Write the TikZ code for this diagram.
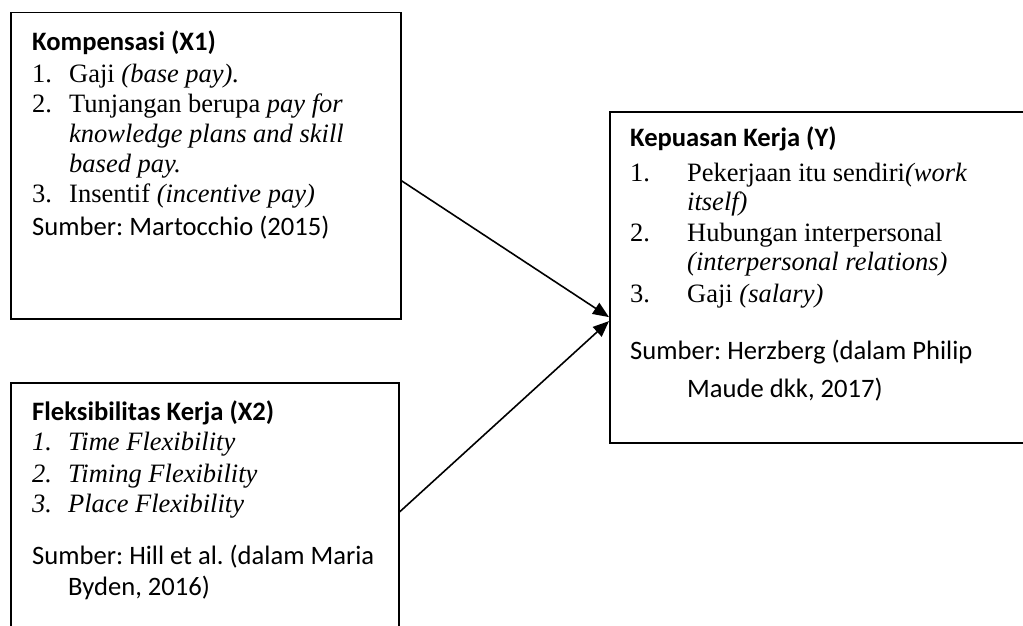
\documentclass[tikz,border=0pt]{standalone}
\usepackage{fontspec}
\setmainfont{Liberation Serif}
\setsansfont{Carlito}
\usetikzlibrary{arrows.meta,positioning}
\frenchspacing
\newcommand{\judul}[1]{{\fontsize{26.6}{30}\sffamily\bfseries #1}}
\newcommand{\sumber}[1]{{\fontsize{26.6}{30}\sffamily #1}}
\newcommand{\nomor}[2][37pt]{\makebox[#1][l]{#2}}

\begin{document}
\begin{tikzpicture}[x=1pt,y=-1pt,
  kotak/.style={draw,line width=1.5pt,inner sep=0pt,anchor=north west},
  isi/.style={inner sep=0pt,anchor=north west,align=left,
    font=\fontsize{26.5}{30}\selectfont},
  isibesar/.style={isi,font=\fontsize{26.5}{30.5}\selectfont},
  panah/.style={line width=1.6pt,-{Triangle[length=16pt,width=13pt]}}]
\useasboundingbox (0,0) rectangle (1023,626);
\clip (0,0) rectangle (1023,626);
% kotak variabel
\node[kotak,minimum width=390pt,minimum height=306pt] (komp) at (10,12) {};
\node[kotak,minimum width=388pt,minimum height=300pt] (fleks) at (10,382) {};
\node[kotak,line width=2.2pt,minimum width=450pt,minimum height=331pt] (puas) at (609,111) {};
% isi kotak
\node[isi] (kompisi) at (32,31) {\judul{Kompensasi (X1)}\\[2pt]
  \nomor{1.}Gaji \textit{(base pay).}\\
  \nomor{2.}Tunjangan berupa \textit{pay for}\\
  \nomor{}\textit{knowledge plans and skill}\\
  \nomor{}\textit{based pay.}\\
  \nomor{3.}Insentif \textit{(incentive pay)}\\[3pt]
  \sumber{Sumber: Martocchio (2015)}};
\node[isibesar] (fleksisi) at (32,401) {\judul{Fleksibilitas Kerja (X2)}\\[-1pt]
  \itshape\nomor[36pt]{1.}Time Flexibility\\[2pt]
  \itshape\nomor[36pt]{2.}Timing Flexibility\\[-1pt]
  \itshape\nomor[36pt]{3.}Place Flexibility\\[22pt]
  \sumber{Sumber: Hill et al. (dalam Maria}\\
  \sumber{\nomor[36pt]{}Byden, 2016)}};
\node[isibesar] (puasisi) at (630,127) {\judul{Kepuasan Kerja (Y)}\\[4pt]
  \nomor[57pt]{1.}Pekerjaan itu sendiri\textit{(work}\\[-1pt]
  \nomor[57pt]{}\textit{itself)}\\
  \nomor[57pt]{2.}Hubungan interpersonal\\[-1pt]
  \nomor[57pt]{}\textit{(interpersonal relations)}\\[1pt]
  \nomor[57pt]{3.}Gaji \textit{(salary)}\\[27pt]
  \sumber{Sumber: Herzberg (dalam Philip}\\[7pt]
  \sumber{\nomor[57pt]{}Maude dkk, 2017)}};
% panah
\draw[panah] ([yshift=-15pt]komp.east) -- ([yshift=-39.5pt]puas.west);
\draw[panah] ([yshift=-130pt]fleks.north east) -- ([yshift=-43.5pt]puas.west);
\end{tikzpicture}
\end{document}
